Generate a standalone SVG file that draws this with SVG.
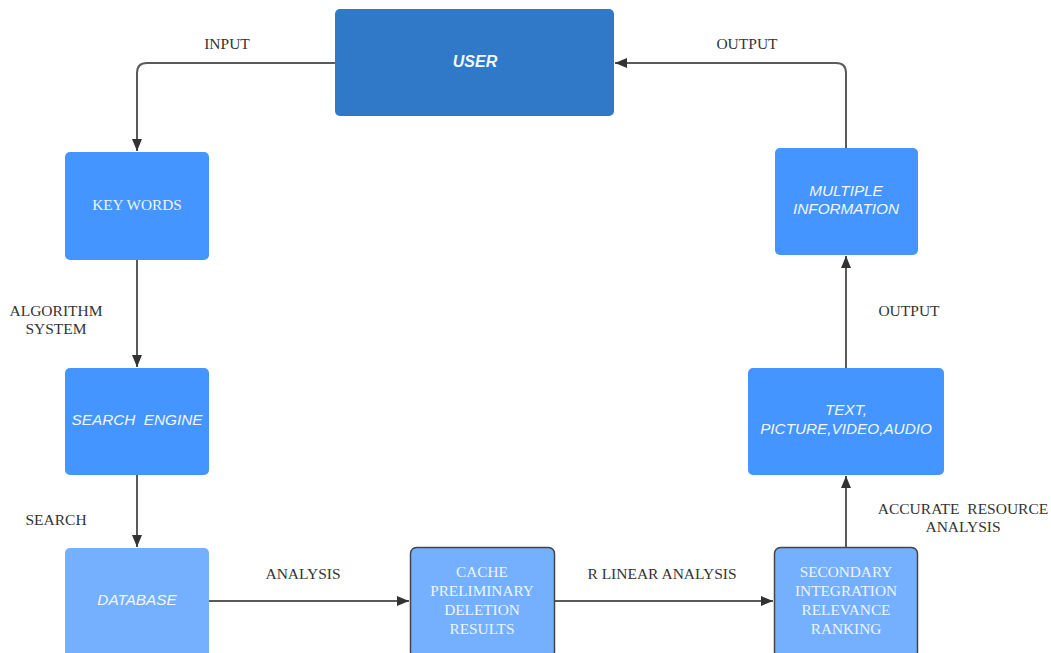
<svg xmlns="http://www.w3.org/2000/svg" width="1051" height="653" viewBox="0 0 1051 653">
<style>
.lbl{font-family:"Liberation Serif",serif;font-size:15.5px;fill:#333;text-anchor:middle}
.ser{font-family:"Liberation Serif",serif;font-size:15.3px;fill:#eef4ff;text-anchor:middle}
.san{font-family:"Liberation Sans",sans-serif;font-size:15.3px;font-style:italic;fill:#f2f7ff;text-anchor:middle}
.n1{fill:#4495ff}
.n2{fill:#74b0ff}
.n2s{fill:#74b0ff;stroke:#444;stroke-width:1.5}
.c{fill:none;stroke:#5a5a5a;stroke-width:2}
</style>
<defs>
<marker id="ah" viewBox="0 0 12 10" refX="12" refY="5" markerWidth="12" markerHeight="10" markerUnits="userSpaceOnUse" orient="auto">
<path d="M0,0 L12,5 L0,10 z" fill="#333"/>
</marker>
</defs>
<rect width="1051" height="653" fill="#fff"/>
<g id="connectors">
<path class="c" d="M335,63 H147 Q137,63 137,73 V151" marker-end="url(#ah)"/>
<path class="c" d="M137,260 V367" marker-end="url(#ah)"/>
<path class="c" d="M137,475 V547" marker-end="url(#ah)"/>
<path class="c" d="M209,601 H409" marker-end="url(#ah)"/>
<path class="c" d="M554,601 H773" marker-end="url(#ah)"/>
<path class="c" d="M846,547 V476" marker-end="url(#ah)"/>
<path class="c" d="M846,368 V256" marker-end="url(#ah)"/>
<path class="c" d="M846,148 V73 Q846,63 836,63 H615" marker-end="url(#ah)"/>
</g>
<g id="labels">
<text class="lbl" x="227" y="49">INPUT</text>
<text class="lbl" x="747" y="49">OUTPUT</text>
<text class="lbl" x="56" y="316">ALGORITHM</text>
<text class="lbl" x="56" y="334">SYSTEM</text>
<text class="lbl" x="56" y="525">SEARCH</text>
<text class="lbl" x="303" y="579">ANALYSIS</text>
<text class="lbl" x="662" y="579">R LINEAR ANALYSIS</text>
<text class="lbl" x="909" y="316">OUTPUT</text>
<text class="lbl" x="963" y="514" xml:space="preserve">ACCURATE  RESOURCE</text>
<text class="lbl" x="963" y="532">ANALYSIS</text>
</g>
<g id="user">
<rect x="335" y="9" width="279" height="107" rx="5" fill="#3078c8"/>
<text x="475" y="67" font-family="Liberation Sans,sans-serif" font-size="16" font-weight="bold" font-style="italic" fill="#f2f7ff" text-anchor="middle">USER</text>
</g>
<g id="keywords">
<rect class="n1" x="65" y="152" width="144" height="108" rx="5"/>
<text class="ser" x="137" y="210">KEY WORDS</text>
</g>
<g id="searchengine">
<rect class="n1" x="65" y="368" width="144" height="107" rx="5"/>
<text class="san" x="137" y="425" xml:space="preserve">SEARCH  ENGINE</text>
</g>
<g id="database">
<rect class="n2" x="65" y="548" width="144" height="110" rx="5"/>
<text class="san" x="137" y="605">DATABASE</text>
</g>
<g id="cache">
<rect class="n2s" x="410.5" y="547.5" width="144" height="110" rx="6"/>
<text class="ser" x="482" y="577">CACHE</text>
<text class="ser" x="482" y="596">PRELIMINARY</text>
<text class="ser" x="482" y="615">DELETION</text>
<text class="ser" x="482" y="634">RESULTS</text>
</g>
<g id="secondary">
<rect class="n2s" x="774.5" y="547.5" width="143" height="110" rx="6"/>
<text class="ser" x="846" y="577">SECONDARY</text>
<text class="ser" x="846" y="596">INTEGRATION</text>
<text class="ser" x="846" y="615">RELEVANCE</text>
<text class="ser" x="846" y="634">RANKING</text>
</g>
<g id="media">
<rect class="n1" x="748" y="368" width="196" height="107" rx="5"/>
<text class="san" x="846" y="415">TEXT,</text>
<text class="san" x="846" y="434">PICTURE,VIDEO,AUDIO</text>
</g>
<g id="multiple">
<rect class="n1" x="775" y="148" width="143" height="107" rx="5"/>
<text class="san" x="846" y="196">MULTIPLE</text>
<text class="san" x="846" y="214">INFORMATION</text>
</g>
</svg>
